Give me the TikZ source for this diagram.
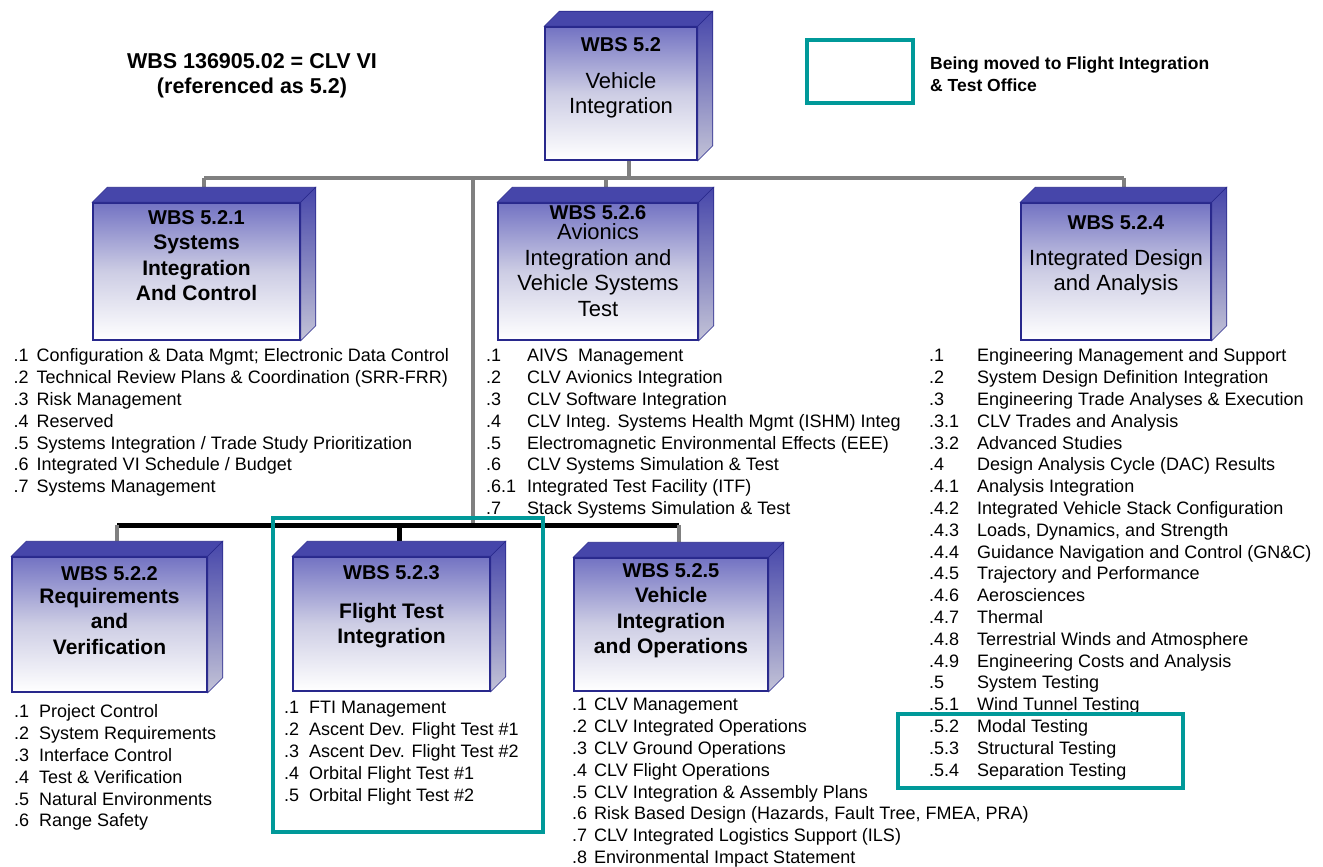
\documentclass[tikz,border=0pt]{standalone}
\usepackage{fontspec}
\setmainfont{Liberation Sans}
\usetikzlibrary{positioning,calc,backgrounds}
\definecolor{wbsnavy}{RGB}{40,40,140}
\definecolor{wbstop}{RGB}{70,70,170}
\definecolor{wbsupper}{RGB}{115,115,195}
\definecolor{wbsmid}{RGB}{205,205,228}
\definecolor{wbsside}{RGB}{195,195,215}
\definecolor{movedteal}{RGB}{0,153,153}
\definecolor{busgray}{RGB}{128,128,128}
\newcommand{\wbsno}[1]{{\bfseries\fontsize{20}{23}\selectfont #1}}
\newcommand{\wbslist}[2]{\begin{tabular}{@{}p{#1}@{}l@{}}#2\end{tabular}}
\tikzset{
  wbsbox/.style={draw=wbsnavy,line width=1.5pt,top color=wbsupper,
    bottom color=white,middle color=wbsmid,inner sep=0pt},
  boxtxt/.style={align=center,inner sep=0pt,font=\fontsize{22}{25.5}\selectfont},
  boxtxtb/.style={boxtxt,font=\bfseries\fontsize{21}{25.5}\selectfont},
  topface/.style={fill=wbstop,draw=wbsnavy,line width=0.6pt},
  sideface/.style={top color=wbstop,bottom color=wbsside,draw=wbsnavy,line width=0.6pt},
  bus/.style={busgray,line width=4pt},
  bar/.style={black,line width=5pt},
  moved/.style={movedteal,line width=4pt},
  lst/.style={anchor=north west,inner sep=0pt,font=\fontsize{18}{21.8}\selectfont},
  hdr/.style={font=\bfseries\fontsize{21.5}{25}\selectfont,align=center,inner sep=0pt},
  lgd/.style={font=\bfseries\fontsize{17.5}{22}\selectfont,align=left,anchor=west,inner sep=0pt},
}
\begin{document}
\begin{tikzpicture}[x=1pt,y=-1pt]
  \useasboundingbox (0,0) rectangle (1323,867);
  \node[hdr] (title) at (252,75.5) {WBS 136905.02 = CLV VI\\(referenced as 5.2)};

  \node[wbsbox,minimum width=152pt,minimum height=133pt] (top) at (621,93.5) {};
  \node[wbsbox,minimum width=207pt,minimum height=137pt] (sic) at (196.5,271.5) {};
  \node[wbsbox,minimum width=200pt,minimum height=137pt] (avi) at (598,271.5) {};
  \node[wbsbox,minimum width=190pt,minimum height=137pt] (ida) at (1116,271.5) {};
  \node[wbsbox,minimum width=195pt,minimum height=135pt] (rv) at (109.5,624.5) {};
  \node[wbsbox,minimum width=197pt,minimum height=134pt] (fti) at (391.5,624) {};
  \node[wbsbox,minimum width=194pt,minimum height=133pt] (vio) at (671,624.5) {};
  \foreach \n in {top,sic,avi,ida,rv,fti,vio}{
    \draw[topface] (\n.north west) -- ++(15,-15) -- ($(\n.north east)+(15,-15)$)
      -- (\n.north east) -- cycle;
    \draw[sideface] (\n.north east) -- ++(15,-15) -- ($(\n.south east)+(15,-15)$)
      -- (\n.south east) -- cycle;
    \coordinate (\n-up) at ($(\n.north)+(7.5,-15)$);
  }

  \node[boxtxt,below=11pt of top.north] (top-t) {\wbsno{WBS 5.2}\\[11.5pt]Vehicle\\Integration};
  \node[boxtxtb,below=8pt of sic.north] (sic-t) {\wbsno{WBS 5.2.1}\\Systems\\Integration\\And Control};
  \node[boxtxt,below=3pt of avi.north] (avi-t) {\wbsno{WBS 5.2.6}\\[-5pt]Avionics\\Integration and\\Vehicle Systems\\Test};
  \node[boxtxt,below=13pt of ida.north] (ida-t) {\wbsno{WBS 5.2.4}\\[10.5pt]Integrated Design\\and Analysis};
  \node[boxtxtb,below=10pt of rv.north] (rv-t) {\wbsno{WBS 5.2.2}\\[-2.5pt]Requirements\\and\\Verification};
  \node[boxtxtb,below=9pt of fti.north] (fti-t) {\wbsno{WBS 5.2.3}\\[13.5pt]Flight Test\\Integration};
  \node[boxtxtb,below=6pt of vio.north] (vio-t) {\wbsno{WBS 5.2.5}\\Vehicle\\Integration\\and Operations};

  \coordinate (j1) at (473,178);
  \coordinate (j2) at (473,525);
  \begin{scope}[on background layer]
    \draw[bus] (top-up |- top.south) -- (top-up |- j1);
    \draw[bus] (sic-up |- j1) -- (ida-up |- j1);
    \foreach \n in {sic,avi,ida} \draw[bus] (\n-up |- j1) -- (\n-up);
    \draw[bus] (j1) -- (j2);
    \draw[bar] (rv-up |- j2) -- (vio-up |- j2);
    \draw[bus] (rv-up |- j2) -- (rv-up);
    \draw[bar] (fti-up |- j2) -- (fti-up);
    \draw[bus] (vio-up |- j2) -- (vio-up);
  \end{scope}

  \node[lst] (sic-l) at (13.5,346.5) {\wbslist{23pt}{%
    .1 & Configuration \& Data Mgmt; Electronic Data Control\\
    .2 & Technical Review Plans \& Coordination (SRR-FRR)\\
    .3 & Risk Management\\
    .4 & Reserved\\
    .5 & Systems Integration / Trade Study Prioritization\\
    .6 & Integrated VI Schedule / Budget\\
    .7 & Systems Management}};
  \node[lst] (avi-l) at (486,346.5) {\wbslist{41pt}{%
    .1 & AIVS\ \ Management\\
    .2 & CLV Avionics Integration\\
    .3 & CLV Software Integration\\
    .4 & CLV Integ. Systems Health Mgmt (ISHM) Integ\\
    .5 & Electromagnetic Environmental Effects (EEE)\\
    .6 & CLV Systems Simulation \& Test\\
    .6.1 & Integrated Test Facility (ITF)\\
    .7 & Stack Systems Simulation \& Test}};
  \node[lst] (ida-l) at (929,346.5) {\wbslist{48pt}{%
    .1 & Engineering Management and Support\\
    .2 & System Design Definition Integration\\
    .3 & Engineering Trade Analyses \& Execution\\
    .3.1 & CLV Trades and Analysis\\
    .3.2 & Advanced Studies\\
    .4 & Design Analysis Cycle (DAC) Results\\
    .4.1 & Analysis Integration\\
    .4.2 & Integrated Vehicle Stack Configuration\\
    .4.3 & Loads, Dynamics, and Strength\\
    .4.4 & Guidance Navigation and Control (GN\&C)\\
    .4.5 & Trajectory and Performance\\
    .4.6 & Aerosciences\\
    .4.7 & Thermal\\
    .4.8 & Terrestrial Winds and Atmosphere\\
    .4.9 & Engineering Costs and Analysis\\
    .5 & System Testing\\
    .5.1 & Wind Tunnel Testing\\
    .5.2 & Modal Testing\\
    .5.3 & Structural Testing\\
    .5.4 & Separation Testing}};
  \node[lst] (rv-l) at (14,702.5) {\wbslist{25pt}{%
    .1 & Project Control\\
    .2 & System Requirements\\
    .3 & Interface Control\\
    .4 & Test \& Verification\\
    .5 & Natural Environments\\
    .6 & Range Safety}};
  \node[lst] (fti-l) at (284,698.5) {\wbslist{25pt}{%
    .1 & FTI Management\\
    .2 & Ascent Dev. Flight Test \#1\\
    .3 & Ascent Dev. Flight Test \#2\\
    .4 & Orbital Flight Test \#1\\
    .5 & Orbital Flight Test \#2}};
  \node[lst] (vio-l) at (572,695.5) {\wbslist{22pt}{%
    .1 & CLV Management\\
    .2 & CLV Integrated Operations\\
    .3 & CLV Ground Operations\\
    .4 & CLV Flight Operations\\
    .5 & CLV Integration \& Assembly Plans\\
    .6 & Risk Based Design (Hazards, Fault Tree, FMEA, PRA)\\
    .7 & CLV Integrated Logistics Support (ILS)\\
    .8 & Environmental Impact Statement}};

  \draw[moved] (273,518) rectangle (543,832);
  \draw[moved] (898,714) rectangle (1183,788);
  \draw[moved] (807,40) rectangle (913,103);
  \node[lgd] (legend) at (930,74) {Being moved to Flight Integration\\\& Test Office};
\end{tikzpicture}
\end{document}
